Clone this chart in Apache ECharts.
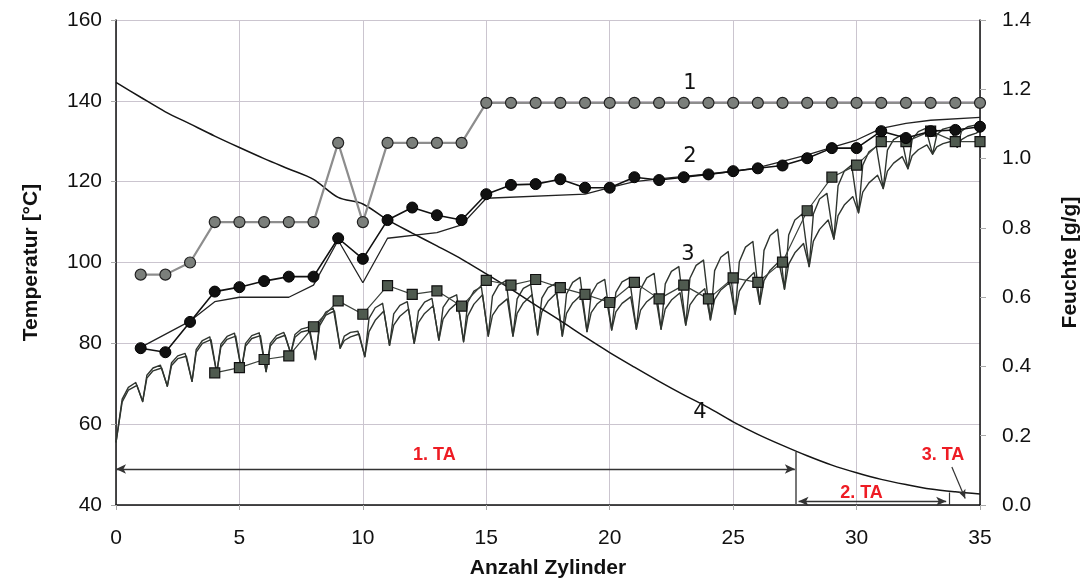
<!DOCTYPE html>
<html>
<head>
<meta charset="utf-8">
<script src="https://cdn.jsdelivr.net/npm/echarts@6/dist/echarts.min.js"></script>
<style>
  html, body { margin: 0; padding: 0; background: #fff; }
  #chart { width: 1087px; height: 583px; }
</style>
</head>
<body>
<div id="chart"></div>
<script>
// Curve 1: steam temperature per cylinder (°C), cylinders 1..35
const steamTemp = [97, 97, 100, 110, 110, 110, 110, 110, 129.6, 110, 129.6, 129.6, 129.6, 129.6,
  139.5, 139.5, 139.5, 139.5, 139.5, 139.5, 139.5, 139.5, 139.5, 139.5, 139.5, 139.5, 139.5,
  139.5, 139.5, 139.5, 139.5, 139.5, 139.5, 139.5, 139.5];

// Curve 2: measured cylinder surface temperature (°C), cylinders 1..35
const surfaceTemp = [78.8, 77.8, 85.3, 92.8, 93.9, 95.4, 96.5, 96.5, 106, 100.9, 110.5, 113.6,
  111.7, 110.5, 116.9, 119.2, 119.4, 120.6, 118.5, 118.5, 121.1, 120.4, 121.1, 121.8, 122.6,
  123.3, 124, 125.8, 128.3, 128.3, 132.5, 130.8, 132.5, 132.8, 133.6];

// Curve 2: calculated surface temperature (°C) at [cylinder, value]
const surfaceCalcX = [1, 3, 4, 5, 7, 8, 9, 10, 11, 13, 14, 15, 19, 20, 21, 22, 23, 24, 25, 26, 27, 28, 29, 30, 31, 32, 33, 35];
const surfaceCalc = [79, 85.5, 90.3, 91.4, 91.4, 94.4, 105.5, 95, 106, 107.4, 109.3, 115.9, 116.9,
  118.5, 120, 120.7, 121.3, 121.9, 122.5, 123.5, 125, 126.6, 128.5, 130.3, 133.2, 134.4, 135.2, 135.9];

// Curve 3: measured web temperature (°C), cylinders 4..35
const webTempX = [4, 5, 6, 7, 8, 9, 10, 11, 12, 13, 14, 15, 16, 17, 18, 19, 20, 21, 22, 23, 24, 25, 26, 27, 28, 29, 30, 31, 32, 33, 34, 35];
const webTemp = [72.7, 74, 76, 76.9, 84.1, 90.5, 87.2, 94.3, 92.1, 93, 89.2, 95.6, 94.4, 95.8, 93.8,
  92.1, 90.1, 95.1, 91, 94.4, 91, 96.2, 95.1, 100.1, 112.8, 121.1, 124.1, 129.9, 129.9, 132.5, 129.9, 129.9];

// Curve 3: simulated web temperature per cylinder pass (°C), cycles 0..34
// trough after the free draw, then early rise, mid rise and peak on the cylinder
const simTrough = [55.5, 65.6, 69.4, 70.6, 72.7, 73.5, 73, 77.5, 76, 78.8, 76.7, 79.5, 80, 80.8, 80.4,
  81.8, 81.8, 82.1, 81.8, 82.9, 83.3, 83.5, 83.5, 84.5, 85.8, 87.2, 89.7, 93.4, 99, 105.8, 112.3,
  118.3, 123.2, 126.8, 128.5];
const simKneeA = [66.2, 72.1, 75.2, 78.5, 79.8, 80, 80, 82.2, 85.1, 81.8, 86.2, 87.3, 88, 88.9, 90.2,
  91.7, 91, 91.2, 92.2, 92.2, 92.6, 93.4, 94.7, 96.1, 98, 100.2, 103, 106.8, 112, 119, 124.1, 127.8,
  130.4, 131.6, 132.5];
const simMidA = [69.1, 73.9, 76.9, 80.7, 81.7, 81.9, 81.9, 83.5, 87.7, 82.7, 88.8, 89.4, 90.2, 91.1,
  92.9, 94.4, 93.6, 93.8, 95.1, 94.8, 95.2, 96.2, 97.8, 99.3, 101.3, 103.8, 106.7, 110.5, 115.7,
  122.6, 127.4, 130.4, 132.4, 133, 133.6];
const simPeakA = [70.3, 74.6, 77.5, 81.6, 82.5, 82.6, 82.7, 84, 88.7, 83, 89.9, 90.3, 91.1, 92, 94,
  95.5, 94.6, 94.8, 96.3, 95.8, 96.2, 97.3, 99, 100.6, 102.7, 105.2, 108.2, 112, 117.1, 124.1, 128.7,
  131.5, 133.2, 133.5, 134];
const simKneeB = [65.5, 71.4, 74.5, 77.8, 79.1, 79.3, 79.3, 81.5, 84.4, 80.7, 82.9, 84.5, 85.1, 86,
  86.8, 86.9, 87.4, 87.8, 87.4, 87.6, 87.8, 88.2, 88.5, 89.5, 90.9, 92.9, 95.5, 99.6, 105.3, 111.6,
  117.4, 122.6, 126.4, 128.6, 130.4];
const simMidB = [68.4, 73.2, 76.2, 80, 81, 81.2, 81.2, 82.8, 87, 81.6, 85.7, 86.7, 87.4, 88.3, 89.7,
  89.2, 90, 90.4, 90, 89.8, 89.9, 90.3, 90.7, 91.7, 93.2, 95.4, 98.1, 102.4, 108.2, 114.2, 119.7,
  124.6, 127.9, 129.4, 131.3];
const simPeakB = [69.6, 73.9, 76.8, 80.9, 81.8, 81.9, 82, 83.3, 88, 82.3, 88, 88.5, 89.3, 90.2, 92,
  91, 92, 92.5, 92, 91.5, 91.5, 92, 92.5, 93.5, 95, 97.5, 100.2, 104.7, 110.5, 116.3, 121.6, 126.2,
  129.1, 130, 132];
const simEndA = 134.3;
const simEndB = 132.6;

// Curve 4: web moisture (g/g) at cylinders 0..35
const moisture = [1.22, 1.177, 1.135, 1.1, 1.065, 1.032, 1.0, 0.97, 0.94, 0.888, 0.869, 0.823, 0.785,
  0.748, 0.71, 0.667, 0.623, 0.577, 0.532, 0.485, 0.44, 0.398, 0.357, 0.318, 0.281, 0.24, 0.204,
  0.172, 0.142, 0.115, 0.093, 0.074, 0.059, 0.046, 0.038, 0.032];

// Drying sections (Trockenabschnitte), cylinder ranges
const sectionNames = ['1. TA', '2. TA', '3. TA'];
const sectionBounds = [0, 27.55, 33.75, 35];

// Curve numbers
const curveNames = ['1', '2', '3', '4'];

function pairs(xs, ys) { return ys.map((v, i) => [xs[i], v]); }

// One cylinder pass: trough after the free draw, rise on the cylinder, peak before leaving it
function sawtooth(trough, knee, mid, peak, endValue, peakAt) {
  const pts = [];
  for (let k = 0; k < trough.length; k++) {
    pts.push([k === 0 ? 0 : k + 0.08, trough[k]]);
    pts.push([k + 0.25, knee[k]]);
    pts.push([k + 0.5, mid[k]]);
    pts.push([k + peakAt, peak[k]]);
  }
  pts.push([35, endValue]);
  return pts;
}

const cyl1 = steamTemp.map((_, i) => i + 1);
const moistX = moisture.map((_, i) => i);

const FONT = '"Liberation Sans", Arial, sans-serif';
const gridColor = '#cbc5cf';
const red = '#ee1c24';
const numLabel = { color: '#111', fontWeight: 'normal', fontSize: 21, fontFamily: '"DejaVu Sans", sans-serif' };

const chart = echarts.init(document.getElementById('chart'), null, { renderer: 'canvas' });

const lineTip = { color: '#333', width: 1.4 };

chart.setOption({
  animation: false,
  backgroundColor: '#fff',
  grid: { left: 116, right: 107, top: 20, bottom: 78, outerBoundsMode: 'none', containLabel: false },
  xAxis: {
    type: 'value', min: 0, max: 35, interval: 5,
    name: 'Anzahl Zylinder', nameLocation: 'middle', nameGap: 53,
    nameTextStyle: { fontFamily: FONT, fontWeight: 'bold', fontSize: 21, color: '#111' },
    axisLine: { show: true, onZero: false, lineStyle: { color: '#111', width: 1.5 } },
    axisTick: { show: true, length: 5, lineStyle: { color: '#aaa' } },
    axisLabel: { fontFamily: FONT, fontSize: 21, color: '#111', margin: 23 },
    splitLine: { show: true, lineStyle: { color: gridColor, width: 1 } }
  },
  yAxis: [{
    type: 'value', min: 40, max: 160, interval: 20,
    name: 'Temperatur [°C]', nameLocation: 'middle', nameGap: 74, nameRotate: 90,
    nameTextStyle: { fontFamily: FONT, fontWeight: 'bold', fontSize: 21, color: '#111' },
    axisLine: { show: true, lineStyle: { color: '#111', width: 1.5 } },
    axisTick: { show: true, length: 5, lineStyle: { color: '#aaa' } },
    axisLabel: { fontFamily: FONT, fontSize: 21, color: '#111', margin: 14 },
    splitLine: { show: true, lineStyle: { color: gridColor, width: 1 } }
  }, {
    type: 'value', min: 0, max: 1.4, interval: 0.2,
    name: 'Feuchte [g/g]', nameLocation: 'middle', nameGap: 80, nameRotate: 90,
    nameTextStyle: { fontFamily: FONT, fontWeight: 'bold', fontSize: 21, color: '#111' },
    axisLine: { show: true, lineStyle: { color: '#111', width: 1.5 } },
    axisTick: { show: true, length: 6, lineStyle: { color: '#aaa' } },
    axisLabel: { fontFamily: FONT, fontSize: 21, color: '#111', margin: 22,
      formatter: v => v.toFixed(1) },
    splitLine: { show: false }
  }],
  series: [
    {
      name: 'sim A', type: 'line', yAxisIndex: 0, showSymbol: false, z: 2,
      data: sawtooth(simTrough, simKneeA, simMidA, simPeakA, simEndA, 0.8),
      lineStyle: { color: '#2f352f', width: 1.4, join: 'round' }
    },
    {
      name: 'sim B', type: 'line', yAxisIndex: 0, showSymbol: false, z: 2,
      data: sawtooth(simTrough, simKneeB, simMidB, simPeakB, simEndB, 0.85),
      lineStyle: { color: '#2f352f', width: 1.4, join: 'round' }
    },
    {
      name: 'web', type: 'line', yAxisIndex: 0, z: 4,
      data: pairs(webTempX, webTemp),
      symbol: 'rect', symbolSize: 10, showSymbol: true,
      itemStyle: { color: '#4f5a4f', borderColor: '#111', borderWidth: 1.2 },
      lineStyle: { color: '#3c423c', width: 1.2 }
    },
    {
      name: 'surface calc', type: 'line', yAxisIndex: 0, showSymbol: false, z: 3,
      data: pairs(surfaceCalcX, surfaceCalc),
      lineStyle: { color: '#222', width: 1.3 },
      markLine: {
        silent: true, animation: false,
        symbolSize: [7, 10],
        lineStyle: { color: '#333', width: 1.4, type: 'solid' },
        label: { show: false },
        data: [
          [{ coord: [sectionBounds[0], 48.9], symbol: 'arrow', lineStyle: lineTip },
           { coord: [sectionBounds[1] - 0.05, 48.9], symbol: 'arrow' }],
          [{ coord: [sectionBounds[1], 40], symbol: 'none', lineStyle: { color: '#555', width: 1.6 } },
           { coord: [sectionBounds[1], 53.1], symbol: 'none' }],
          [{ coord: [sectionBounds[1] + 0.1, 40.9], symbol: 'arrow', lineStyle: lineTip },
           { coord: [sectionBounds[2] - 0.12, 40.9], symbol: 'arrow' }],
          [{ coord: [sectionBounds[2], 40], symbol: 'none', lineStyle: { color: '#333', width: 1.2 } },
           { coord: [sectionBounds[2], 43.1], symbol: 'none' }],
          [{ coord: [33.86, 49.4], symbol: 'none', lineStyle: { color: '#333', width: 1.2 } },
           { coord: [34.4, 41.6], symbol: 'arrow', symbolSize: [6, 9] }]
        ]
      },
      markPoint: {
        silent: true, animation: false,
        symbol: 'circle', symbolSize: 1,
        itemStyle: { color: 'rgba(0,0,0,0)' },
        label: { show: true, position: 'inside', formatter: '{b}',
          fontFamily: '"Liberation Sans Narrow", "Liberation Sans", Arial, sans-serif',
          fontWeight: 'bold', fontSize: 18, color: red },
        data: [
          { name: sectionNames[0], coord: [12.9, 52.4] },
          { name: sectionNames[1], coord: [30.2, 43.0] },
          { name: sectionNames[2], coord: [33.5, 52.4] },
          { name: curveNames[0], coord: [23.25, 144.4], label: numLabel },
          { name: curveNames[1], coord: [23.25, 126.1], label: numLabel },
          { name: curveNames[2], coord: [23.17, 101.9], label: numLabel },
          { name: curveNames[3], coord: [23.65, 62.8], label: numLabel }
        ]
      }
    },
    {
      name: 'surface', type: 'line', yAxisIndex: 0, z: 5,
      data: pairs(cyl1, surfaceTemp),
      symbol: 'circle', symbolSize: 11, showSymbol: true,
      itemStyle: { color: '#111', borderColor: '#000', borderWidth: 1 },
      lineStyle: { color: '#111', width: 1.6 }
    },
    {
      name: 'steam', type: 'line', yAxisIndex: 0, z: 5,
      data: pairs(cyl1, steamTemp),
      symbol: 'circle', symbolSize: 11, showSymbol: true,
      itemStyle: { color: '#7b7f7b', borderColor: '#222', borderWidth: 1.2 },
      lineStyle: { color: '#8d8d8d', width: 2.2 }
    },
    {
      name: 'moisture', type: 'line', yAxisIndex: 1, showSymbol: false, smooth: 0.3, z: 3,
      data: pairs(moistX, moisture),
      lineStyle: { color: '#151515', width: 1.5 }
    }
  ]
});
</script>
</body>
</html>
